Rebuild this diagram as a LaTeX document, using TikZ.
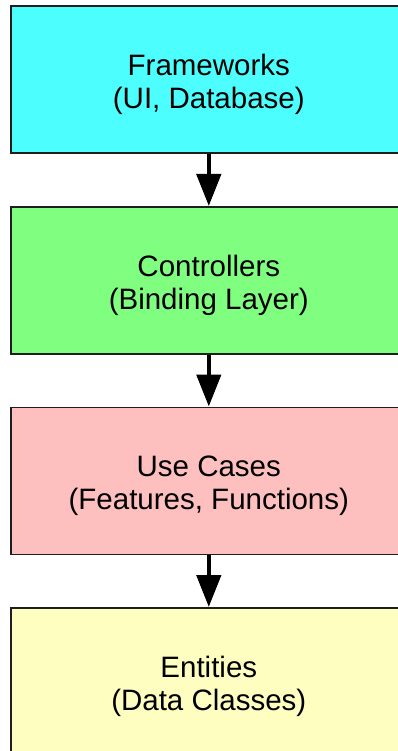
\documentclass[tikz,border=0pt]{standalone}
\usepackage{fontspec}
\setmainfont{Liberation Sans}
\usetikzlibrary{arrows.meta}

\definecolor{fwcyan}{HTML}{4CFEFE}
\definecolor{ctlgreen}{HTML}{80FE80}
\definecolor{ucpink}{HTML}{FEBFBF}
\definecolor{entyellow}{HTML}{FEFEC0}
\definecolor{edge}{HTML}{1E1E1E}

\tikzset{
  layer/.style={draw=edge, line width=1.6pt, rectangle, anchor=north west,
    minimum width=396pt, minimum height=147pt, inner sep=0pt},
  layertext/.style={align=center, inner sep=0pt,
    font=\fontsize{29.5pt}{33pt}\selectfont},
  flow/.style={line width=4.6pt, draw=black,
    -{Triangle[width=24pt,length=32pt]}}
}

\begin{document}
\begin{tikzpicture}[x=1pt, y=-1pt]
  \useasboundingbox (0,0) rectangle (398,751);

  % the four layers, from outermost to innermost
  \node[layer, fill=fwcyan]    (fw)  at (10,5.5)   {};
  \node[layer, fill=ctlgreen]  (ctl) at (10,206)   {};
  \node[layer, fill=ucpink]    (uc)  at (10,406.5) {};
  \node[layer, fill=entyellow] (ent) at (10,607)   {};

  % layer captions
  \node[layertext] (fwt)  at ([yshift=-5pt]fw.center)  {Frameworks\\(UI, Database)};
  \node[layertext] (ctlt) at ([yshift=-5pt]ctl.center) {Controllers\\(Binding Layer)};
  \node[layertext] (uct)  at ([yshift=-5pt]uc.center)  {Use Cases\\(Features, Functions)};
  \node[layertext] (entt) at ([yshift=-5pt]ent.center) {Entities\\(Data Classes)};

  % dependency arrows
  \draw[flow] (fw.south)  -- (ctl.north);
  \draw[flow] (ctl.south) -- (uc.north);
  \draw[flow] (uc.south)  -- (ent.north);
\end{tikzpicture}
\end{document}
